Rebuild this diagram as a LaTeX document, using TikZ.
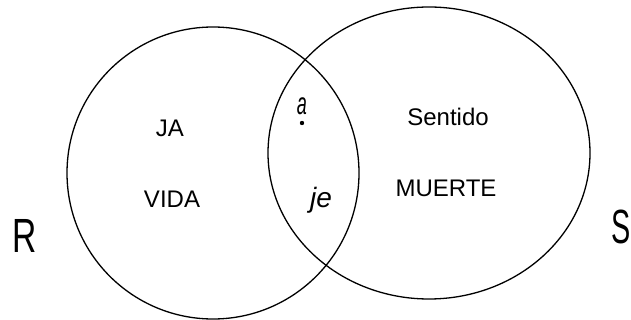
\documentclass[tikz,border=0pt]{standalone}
\usepackage{fontspec}
\setmainfont{Liberation Sans}
\begin{document}
\begin{tikzpicture}[x=0.5pt,y=-0.5pt,
  lbl/.style={inner sep=0pt, anchor=base, font=\fontsize{12pt}{14pt}\selectfont},
  big/.style={inner sep=0pt, anchor=base, font=\fontsize{24pt}{28pt}\selectfont},
  ring/.style={draw=black, line width=0.65pt}]
\useasboundingbox (0,0) rectangle (631,320);
\draw[ring] (213,173) circle [radius=146];
\draw[ring] (429,153) ellipse [x radius=161, y radius=146];
\node[lbl] (ja) at (170,137) {JA};
\node[lbl] (vida) at (172,208) {VIDA};
\node[lbl] (sentido) at (448,126) {Sentido};
\node[lbl] (muerte) at (446,197) {MUERTE};
\node[lbl] (je) at (321,207) {\fontsize{14pt}{16pt}\selectfont\itshape je};
\node[lbl] (a) at (302,115) {\scalebox{0.75}[1.3]{\itshape a}};
\fill (302,123) circle [radius=2.2];
\node[big] (R) at (25,252) {\scalebox{0.7}[1]{R}};
\node[big, anchor=base west] (S) at (611,243) {\scalebox{0.6}[1]{S}};
\end{tikzpicture}
\end{document}
